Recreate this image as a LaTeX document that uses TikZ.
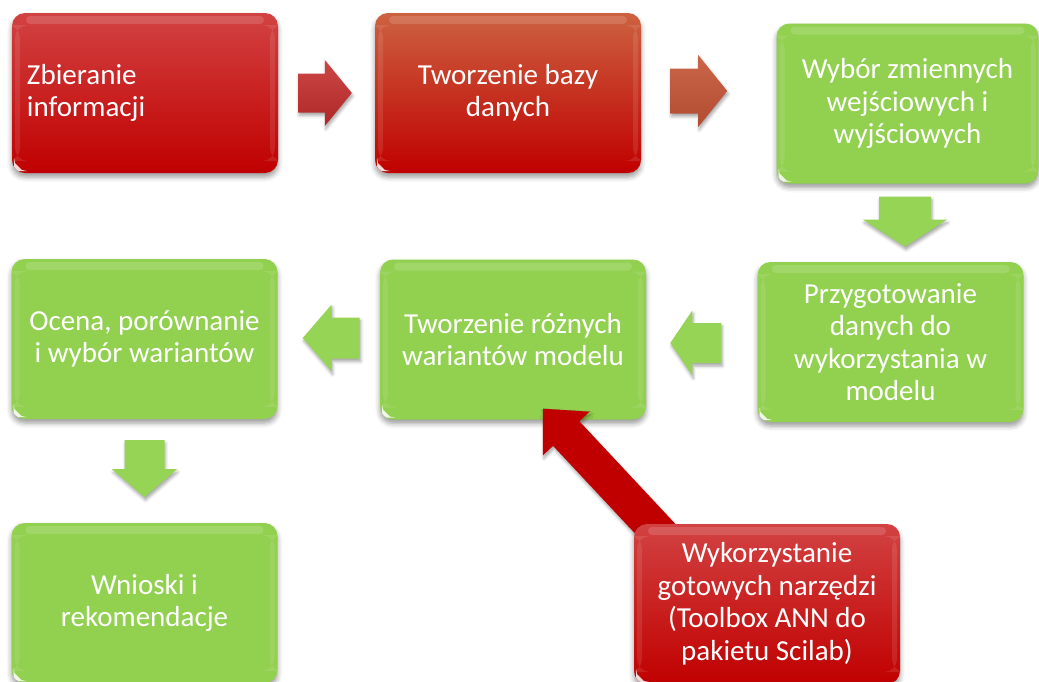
\documentclass[tikz,border=0pt]{standalone}
\usepackage{fontspec}
\setmainfont{Carlito}
\usetikzlibrary{calc,shadows.blur}
\definecolor{grn}{RGB}{146,208,80}
\definecolor{grnarr}{RGB}{150,212,86}
\definecolor{redA}{RGB}{210,66,66}
\definecolor{redB}{RGB}{192,0,0}
\definecolor{orA}{RGB}{204,98,64}
\definecolor{arrOneA}{RGB}{205,70,70}
\definecolor{arrOneB}{RGB}{175,40,40}
\definecolor{arrTwoA}{RGB}{202,102,72}
\definecolor{arrTwoB}{RGB}{178,76,50}
\newcommand\blkarrow[6]{%
  \coordinate (hb) at ($(#2)!#5!(#1)$);
  \path[#6] ($(#1)!#3!90:(#2)$) -- ($(hb)!#3!90:(#2)$) -- ($(hb)!#4!90:(#2)$) -- (#2)
    -- ($(hb)!#4!-90:(#2)$) -- ($(hb)!#3!-90:(#2)$) -- ($(#1)!#3!-90:(#2)$) -- cycle;}
\tikzset{
  box/.style={rounded corners=13pt, minimum width=266pt, minimum height=160pt,
    text=white, font=\fontsize{29}{32.5}\selectfont, align=center, inner sep=0pt,
    blur shadow={shadow xshift=0pt,shadow yshift=-4pt,shadow blur radius=5pt,shadow opacity=40},
    path picture={
      \fill[white,opacity=0.14,rounded corners=4pt]
        ([xshift=14pt,yshift=-3pt]path picture bounding box.north west) rectangle
        ([xshift=-14pt,yshift=-11pt]path picture bounding box.north east);
      \fill[white,opacity=0.10]
        ([xshift=3pt,yshift=-12pt]path picture bounding box.north west) rectangle
        ([xshift=8pt,yshift=12pt]path picture bounding box.south west);
      \fill[white,opacity=0.10]
        ([xshift=-3pt,yshift=-12pt]path picture bounding box.north east) rectangle
        ([xshift=-8pt,yshift=12pt]path picture bounding box.south east);
      \fill[white,opacity=0.85]
        ([xshift=2pt,yshift=2pt]path picture bounding box.south west) -- ++(9pt,0pt) -- ++(-9pt,9pt) -- cycle;
    }},
  redbox/.style={box, top color=redA, bottom color=redB},
  orbox/.style={box, top color=orA, bottom color=redB},
  greenbox/.style={box, fill=grn},
  arrshadow/.style={blur shadow={shadow xshift=1pt,shadow yshift=-3pt,shadow blur radius=3pt,shadow opacity=35}},
  garrow/.style={fill=grnarr, arrshadow},
  rarrowone/.style={top color=arrOneA, bottom color=arrOneB, arrshadow},
  rarrowtwo/.style={top color=arrTwoA, bottom color=arrTwoB, arrshadow},
  bigred/.style={fill=redB, arrshadow}
}
\begin{document}
\begin{tikzpicture}[x=1pt,y=-1pt]
\useasboundingbox (0,0) rectangle (1039,681);
% boxes
\node[redbox, align=left, text width=236pt, inner xsep=15pt] (b1) at (145,93) {Zbieranie\\informacji};
\node[orbox] (b2) at (508,93) {Tworzenie bazy\\danych};
\node[greenbox, minimum width=262pt] (b3) at (907.5,103.5) {Wybór zmiennych\\wejściowych i\\wyjściowych};
\node[greenbox] (b4) at (890.5,342) {Przygotowanie\\danych do\\wykorzystania w\\modelu};
\node[greenbox] (b5) at (513,339.5) {Tworzenie różnych\\wariantów modelu};
\node[greenbox] (b6) at (144.5,339) {Ocena, porównanie\\i wybór wariantów};
\node[greenbox] (b7) at (144.5,603) {Wnioski i\\rekomendacje};
\coordinate (p8) at (767,604);
% arrow end points
\coordinate (a1s) at ($(b1.east)+(20,0)$);
\coordinate (a1e) at ($(b2.west)+(-23,0)$);
\coordinate (a2s) at ($(b2.east)+(29,-2)$);
\coordinate (a2e) at ($(b2.east)+(86,-2)$);
\coordinate (a3s) at ($(b3.south)+(-2.5,13)$);
\coordinate (a3e) at ($(b3.south)+(-2.5,63)$);
\coordinate (a4s) at ($(b4.west)+(-36,1)$);
\coordinate (a4e) at ($(b4.west)+(-87,1)$);
\coordinate (a5s) at ($(b6.east)+(82,-1)$);
\coordinate (a5e) at ($(b6.east)+(25,-1)$);
\coordinate (a6s) at ($(b6.south)+(0,21)$);
\coordinate (a6e) at ($(b6.south)+(0,78)$);
\coordinate (a7s) at ($(p8)+(-105,-68)$);
\coordinate (a7e) at ($(b5.south)+(30,-11)$);
% block arrows
\blkarrow{a1s}{a1e}{19.5pt}{33pt}{27pt}{rarrowone}
\blkarrow{a2s}{a2e}{22.5pt}{36pt}{29pt}{rarrowtwo}
\blkarrow{a3s}{a3e}{26pt}{42pt}{27pt}{garrow}
\blkarrow{a4s}{a4e}{20pt}{32.5pt}{22pt}{garrow}
\blkarrow{a5s}{a5e}{20.5pt}{33.5pt}{29pt}{garrow}
\blkarrow{a6s}{a6e}{20pt}{32.5pt}{28pt}{garrow}
\blkarrow{a7s}{a7e}{18pt}{32pt}{34pt}{bigred}
\node[redbox] (b8) at (p8) {Wykorzystanie\\gotowych narzędzi\\(Toolbox ANN do\\pakietu Scilab)};
\end{tikzpicture}
\end{document}
